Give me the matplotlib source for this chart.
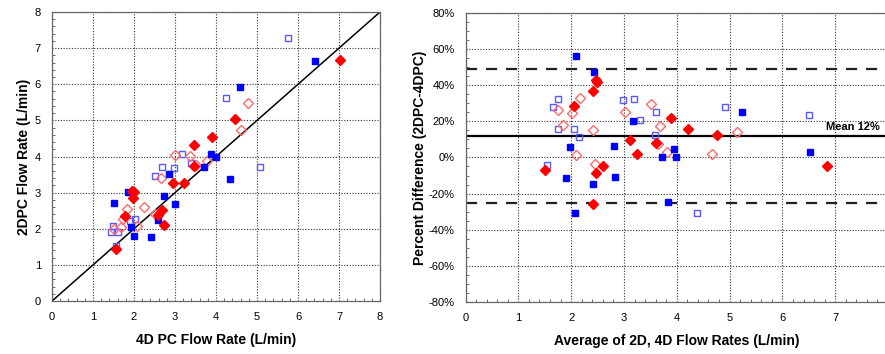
import matplotlib
matplotlib.use('Agg')
import matplotlib.pyplot as plt
from matplotlib.ticker import MultipleLocator, FuncFormatter

plt.rcParams['font.family'] = ['Liberation Sans', 'DejaVu Sans']

# left panel: 4D PC flow (x) vs 2DPC flow (y), L/min
blue_fill_x = [1.51, 1.86, 1.92, 2.01, 2.41, 2.59, 2.72, 2.85, 3.00, 3.70, 3.87, 4.01, 4.34, 4.58, 6.42]
blue_fill_y = [2.71, 3.02, 2.04, 1.80, 1.78, 2.25, 2.91, 3.51, 2.69, 3.72, 4.07, 4.00, 3.37, 5.92, 6.63]
blue_open_x = [1.48, 1.43, 1.62, 1.56, 1.89, 2.03, 2.50, 2.68, 2.98, 3.17, 3.38, 4.25, 5.08, 5.76]
blue_open_y = [2.08, 1.91, 1.91, 1.52, 2.22, 2.28, 3.46, 3.71, 3.67, 4.08, 3.82, 5.61, 3.72, 7.27]
red_fill_x = [1.56, 1.77, 1.99, 1.95, 1.97, 2.59, 2.67, 2.72, 2.96, 3.23, 3.47, 3.46, 3.90, 4.47, 7.02]
red_fill_y = [1.45, 2.36, 3.02, 3.05, 2.84, 2.38, 2.53, 2.10, 3.27, 3.28, 4.32, 3.75, 4.55, 5.04, 6.66]
red_open_x = [1.50, 1.68, 1.74, 1.82, 2.08, 2.25, 2.51, 2.65, 3.00, 3.36, 3.50, 3.79, 4.62, 4.79]
red_open_y = [1.99, 2.04, 2.27, 2.54, 2.08, 2.60, 2.42, 3.40, 4.05, 4.01, 3.77, 3.88, 4.73, 5.49]

# right panel: mean of 2D/4D (x) vs percent difference (y)
ba_blue_fill_x = [2.10, 2.43, 1.97, 1.90, 2.08, 2.41, 2.81, 2.84, 3.17, 3.72, 3.95, 3.99, 3.84, 5.24, 6.52]
ba_blue_fill_y = [56.3, 47.3, 5.7, -11.2, -30.8, -14.6, 6.3, -10.9, 20.3, 0.4, 4.8, 0.0, -24.9, 25.1, 3.0]
ba_blue_open_x = [1.76, 1.66, 1.76, 2.05, 2.15, 1.54, 2.98, 3.19, 3.31, 3.61, 3.58, 4.39, 4.91, 6.51]
ba_blue_open_y = [32.1, 27.9, 15.5, 15.5, 11.5, -4.0, 31.7, 32.1, 20.7, 25.1, 12.2, -30.8, 27.7, 23.3]
ba_red_fill_x = [1.51, 2.06, 2.41, 2.47, 2.49, 2.47, 2.61, 2.41, 3.11, 3.25, 3.60, 3.90, 4.22, 4.76, 6.84]
ba_red_fill_y = [-6.8, 28.6, 36.6, 43.0, 41.8, -8.8, -5.0, -25.8, 9.8, 1.7, 8.1, 22.0, 15.7, 12.2, -5.0]
ba_red_open_x = [1.75, 1.84, 2.01, 2.17, 2.09, 2.42, 2.45, 3.02, 3.52, 3.68, 3.64, 3.82, 4.66, 5.14]
ba_red_open_y = [26.4, 17.7, 24.6, 32.7, 1.3, 15.0, -3.7, 25.1, 29.7, 17.6, 7.2, 3.0, 2.0, 14.1]

mean_diff = 12
upper_loa = 49
lower_loa = -25.3

BLUE = '#0000ff'
BLUE_LT = '#5a5aff'
RED = '#ff0000'
RED_LT = '#ff6a6a'


def draw_points(ax, bfx, bfy, box, boy, rfx, rfy, rox, roy):
    ax.plot(box, boy, 's', ms=5, mfc='none', mec=BLUE_LT, mew=1.0, zorder=3)
    ax.plot(rox, roy, 'D', ms=5, mfc='none', mec=RED_LT, mew=1.0, zorder=3)
    ax.plot(bfx, bfy, 's', ms=5, color=BLUE, zorder=4)
    ax.plot(rfx, rfy, 'D', ms=4.6, color=RED, zorder=4)


def style_axes(ax):
    ax.grid(True, which='major', color='#333333', linestyle=(0, (1, 1.5)), linewidth=0.8)
    ax.tick_params(which='both', direction='in', labelsize=8, color='#555555')
    ax.tick_params(which='major', length=0, pad=8)
    ax.tick_params(which='minor', length=2.5)
    for s in ax.spines.values():
        s.set_color('#666666')
        s.set_linewidth(0.9)


fig = plt.figure(figsize=(8.85, 3.54), dpi=100)

# left: correlation plot
ax1 = fig.add_axes([0.0588, 0.1497, 0.3706, 0.8164])
draw_points(ax1, blue_fill_x, blue_fill_y, blue_open_x, blue_open_y,
            red_fill_x, red_fill_y, red_open_x, red_open_y)
ax1.plot([0, 8], [0, 8], color='black', lw=1.1, zorder=2)
ax1.set_xlim(0, 8)
ax1.set_ylim(0, 8)
ax1.xaxis.set_major_locator(MultipleLocator(1))
ax1.yaxis.set_major_locator(MultipleLocator(1))
ax1.xaxis.set_minor_locator(MultipleLocator(0.2))
ax1.yaxis.set_minor_locator(MultipleLocator(0.2))
style_axes(ax1)
ax1.set_xlabel('4D PC Flow Rate (L/min)', fontsize=10, fontweight='bold', labelpad=8)
ax1.set_ylabel('2DPC Flow Rate (L/min)', fontsize=10, fontweight='bold', labelpad=3)

# right: Bland-Altman plot (cropped on the right like the original)
ax2 = fig.add_axes([0.526, 0.147, 0.4774, 0.8164])
draw_points(ax2, ba_blue_fill_x, ba_blue_fill_y, ba_blue_open_x, ba_blue_open_y,
            ba_red_fill_x, ba_red_fill_y, ba_red_open_x, ba_red_open_y)
ax2.axhline(mean_diff, color='black', lw=1.6, zorder=2)
ax2.axhline(upper_loa, color='#222222', lw=1.6, ls=(0, (5, 4)), zorder=2)
ax2.axhline(lower_loa, color='#222222', lw=1.6, ls=(0, (5, 4)), zorder=2)
ax2.text(7.85, mean_diff + 2, 'Mean 12%', fontsize=8, fontweight='bold',
         ha='right', va='bottom')
ax2.set_xlim(0, 8)
ax2.set_ylim(-80, 80)
ax2.xaxis.set_major_locator(MultipleLocator(1))
ax2.yaxis.set_major_locator(MultipleLocator(20))
ax2.xaxis.set_minor_locator(MultipleLocator(0.2))
ax2.yaxis.set_minor_locator(MultipleLocator(5))
ax2.yaxis.set_major_formatter(FuncFormatter(lambda v, p: f'{v:.0f}%'))
style_axes(ax2)
ax2.set_xlabel('Average of 2D, 4D Flow Rates (L/min)', fontsize=10, fontweight='bold', labelpad=8)
ax2.set_ylabel('Percent Difference (2DPC-4DPC)', fontsize=10, fontweight='bold', labelpad=1)

fig.savefig('out.png', dpi=100)
